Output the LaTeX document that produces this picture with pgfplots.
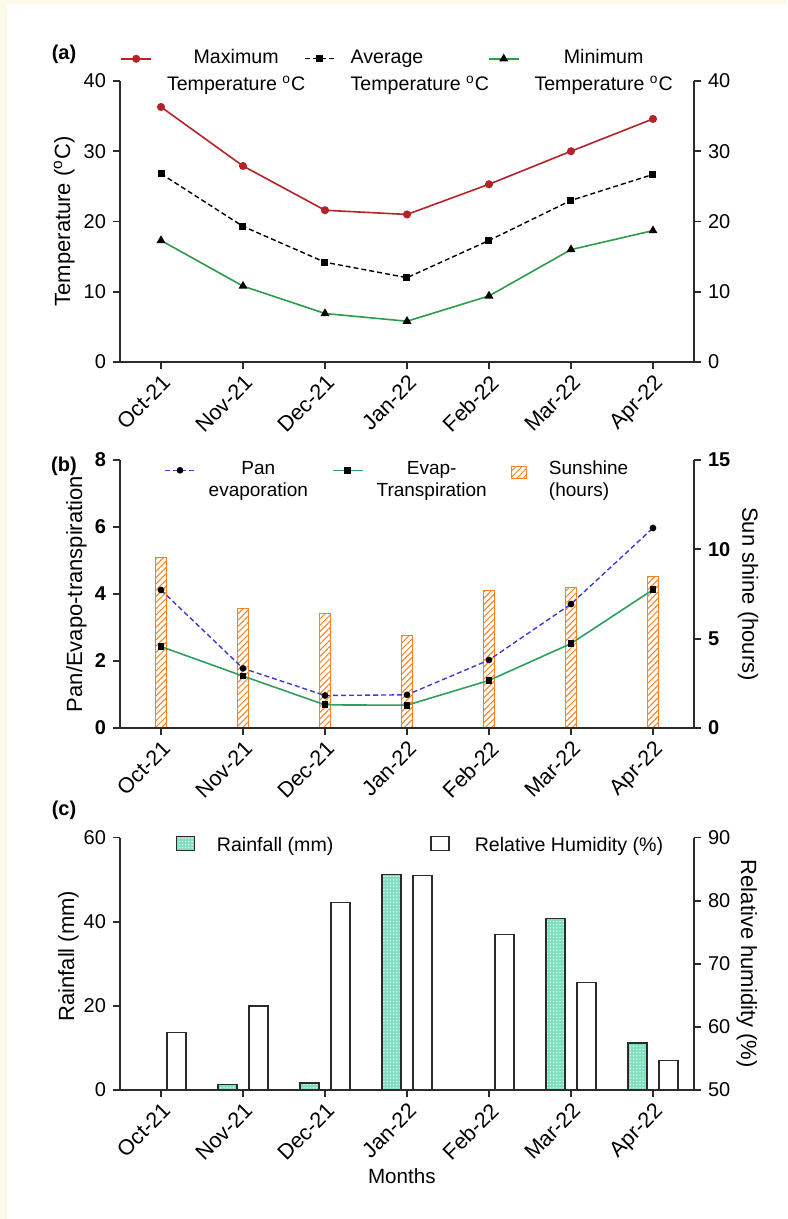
\documentclass[border=0pt]{standalone}
\usepackage{fontspec}
\setmainfont{Liberation Sans}
\usepackage{pgfplots}
\pgfplotsset{compat=1.18}
\usetikzlibrary{patterns,patterns.meta}
\definecolor{axgray}{HTML}{2B2B2B}
\definecolor{maxred}{HTML}{B5232A}
\definecolor{mingreen}{HTML}{2F9A4C}
\definecolor{panblue}{HTML}{3B3BD6}
\definecolor{etgreen}{HTML}{2E9E62}
\definecolor{sunorange}{HTML}{FF8020}
\definecolor{rainmint}{HTML}{7FDFC0}
\definecolor{cream}{HTML}{FCFAE8}

\pgfplotsset{
  base/.style={
    scale only axis, width=287pt,
    xmin=-0.5, xmax=6.5,
    axis line style={axgray, line width=0.9pt},
    every tick/.style={axgray, line width=0.9pt},
    major tick length=3.5pt,
    tick align=outside,
    xtick={0,...,6},
    xticklabels={Oct-21,Nov-21,Dec-21,Jan-22,Feb-22,Mar-22,Apr-22},
    xticklabel style={rotate=45, anchor=north east, font=\fontsize{10.8}{12}\selectfont, inner sep=1.5pt},
    yticklabel style={font=\fontsize{10}{12}\selectfont},
    /pgf/number format/assume math mode=true,
    label style={font=\fontsize{11}{12}\selectfont},
    legend style={draw=none, fill=none, font=\fontsize{9.8}{12}\selectfont, inner sep=0pt},
  },
  leftax/.style={base, axis x line*=bottom, axis y line*=left},
  rightax/.style={base, axis x line=none, axis y line*=right, ylabel style={rotate=180}},
  lineleg/.style={legend image code/.code={\draw[mark repeat=2,mark phase=2,##1] plot coordinates {(0pt,-1pt) (7.5pt,-1pt) (15pt,-1pt)};}},
  sunleg/.style={legend image code/.code={\draw[##1] (0pt,-5pt) rectangle (7.5pt,1pt); \path (12pt,0pt);}},
  boxleg/.style={legend image code/.code={\draw[##1] (0pt,-2.5pt) rectangle (9pt,4.5pt);}},
}

\begin{document}
\begin{tikzpicture}
\useasboundingbox (0,0) rectangle (393.5pt,609.5pt);
\fill[cream] (0,0) rectangle (393.5pt,609.5pt);
\fill[white] (3.5pt,0) rectangle (393.5pt,607.5pt);

% ---------------- panel (a)
\begin{axis}[leftax, at={(60pt,428.5pt)}, anchor=south west, height=140.5pt,
  ymin=0, ymax=40, ytick={0,10,20,30,40},
  ylabel={Temperature (\textsuperscript{o}C)},
  ylabel style={at={(axis description cs:-0.097,0.5)}, anchor=center},
  legend columns=3,
  legend style={at={(axis description cs:0,1.137)}, anchor=north west,
    /tikz/every odd column/.append style={column sep=5.5pt},
    /tikz/every even column/.append style={column sep=-2.5pt}}]
\addplot[maxred, line width=0.8pt, mark=*, mark size=1.6pt, lineleg] coordinates {
(0,36.3) (1,27.9) (2,21.6) (3,21.0) (4,25.3) (5,30.0) (6,34.6)};
\addlegendentry{\begin{tabular}[t]{@{}c@{}}Maximum\\[1.5pt]Temperature \textsuperscript{o}C\end{tabular}}
\addplot[black, line width=0.7pt, dash pattern=on 2.5pt off 1.5pt, mark=square*, mark size=1.4pt, mark options={solid}, lineleg] coordinates {
(0,26.8) (1,19.3) (2,14.2) (3,12.0) (4,17.3) (5,23.0) (6,26.7)};
\addlegendentry{\begin{tabular}[t]{@{}l@{}}Average\\[1.5pt]Temperature \textsuperscript{o}C\end{tabular}}
\addplot[mingreen, line width=0.8pt, mark=triangle*, mark size=1.8pt, mark options={fill=black,draw=black}, lineleg] coordinates {
(0,17.3) (1,10.8) (2,6.9) (3,5.8) (4,9.4) (5,16.0) (6,18.7)};
\addlegendentry{\begin{tabular}[t]{@{}c@{}}Minimum\\[1.5pt]Temperature \textsuperscript{o}C\end{tabular}}
\end{axis}
\begin{axis}[rightax, at={(60pt,428.5pt)}, anchor=south west, height=140.5pt,
  ymin=0, ymax=40, ytick={0,10,20,30,40}]
\addplot[draw=none] coordinates {(0,0)};
\end{axis}
\node[font=\bfseries\fontsize{10}{12}\selectfont] at (32pt,582.5pt) {(a)};

% ---------------- panel (b)
\begin{axis}[rightax, at={(60pt,245.5pt)}, anchor=south west, height=134pt,
  ymin=0, ymax=15, ytick={0,5,10,15},
  yticklabel style={font=\bfseries\fontsize{10}{12}\selectfont},
  ylabel={Sun shine (hours)},
  ylabel style={at={(axis description cs:1.094,0.5)}, anchor=center}]
\addplot[ybar, bar width=0.14, bar shift=0, draw=sunorange, line width=0.6pt, fill=white,
  postaction={pattern={Lines[angle=45,distance=2.2pt,line width=0.5pt]}, pattern color=sunorange}] coordinates {
(0,9.53) (1,6.69) (2,6.41) (3,5.19) (4,7.71) (5,7.86) (6,8.49)};
\end{axis}
\begin{axis}[leftax, at={(60pt,245.5pt)}, anchor=south west, height=134pt,
  ymin=0, ymax=8, ytick={0,2,4,6,8},
  yticklabel style={font=\bfseries\fontsize{10}{12}\selectfont},
  ylabel={Pan/Evapo-transpiration},
  ylabel style={at={(axis description cs:-0.076,0.5)}, anchor=center},
  legend columns=3,
  legend style={at={(axis description cs:0.0765,1.021)}, anchor=north west,
    font=\fontsize{9.5}{11.5}\selectfont,
    /tikz/every odd column/.append style={column sep=4.5pt},
    /tikz/every even column/.append style={column sep=10pt}}]
\addplot[panblue, line width=0.7pt, dash pattern=on 2.5pt off 1.5pt, mark=*, mark size=1.3pt, mark options={solid, fill=black, draw=black}, lineleg] coordinates {
(0,4.12) (1,1.78) (2,0.97) (3,0.99) (4,2.03) (5,3.70) (6,5.97)};
\addlegendentry{\begin{tabular}[t]{@{}c@{}}Pan\\[-0.5pt]evaporation\end{tabular}}
\addplot[etgreen, line width=0.8pt, mark=square*, mark size=1.3pt, mark options={fill=black, draw=black}, lineleg] coordinates {
(0,2.43) (1,1.55) (2,0.69) (3,0.68) (4,1.42) (5,2.52) (6,4.13)};
\addlegendentry{\begin{tabular}[t]{@{}c@{}}Evap-\\[-0.5pt]Transpiration\end{tabular}}
\addlegendimage{draw=sunorange, line width=0.6pt, fill=white,
  postaction={pattern={Lines[angle=45,distance=2.2pt,line width=0.5pt]}, pattern color=sunorange}, sunleg}
\addlegendentry{\begin{tabular}[t]{@{}l@{}}Sunshine\\[-0.5pt](hours)\end{tabular}}
\end{axis}
\node[font=\bfseries\fontsize{10}{12}\selectfont] at (32pt,376.5pt) {(b)};

% ---------------- panel (c)
\begin{axis}[leftax, at={(60pt,64.5pt)}, anchor=south west, height=126.25pt,
  ymin=0, ymax=60, ytick={0,20,40,60},
  ylabel={Rainfall (mm)},
  ylabel style={at={(axis description cs:-0.09,0.53)}, anchor=center},
  xlabel={Months},
  xlabel style={at={(axis description cs:0.491,-0.34)}, anchor=center, font=\fontsize{10.3}{12}\selectfont},
  legend style={at={(axis description cs:0.096,1.019)}, anchor=north west,
    /tikz/every odd column/.append style={column sep=9pt}}]
\addplot[ybar, bar width=0.234, bar shift=-0.188, draw=axgray, line width=0.7pt, fill=rainmint,
  postaction={pattern={Dots[radius=0.35pt,distance=1.6pt]}, pattern color=white}, boxleg] coordinates {
(1,1.35) (2,1.66) (3,51.2) (5,40.8) (6,11.2)};
\addlegendentry{Rainfall (mm)}
\end{axis}
\begin{axis}[rightax, at={(60pt,64.5pt)}, anchor=south west, height=126.25pt,
  ymin=50, ymax=90, ytick={50,60,70,80,90},
  ylabel={Relative humidity (\%)},
  ylabel style={at={(axis description cs:1.092,0.5)}, anchor=center},
  legend style={at={(axis description cs:0.54,1.019)}, anchor=north west,
    /tikz/every odd column/.append style={column sep=10.5pt}}]
\addplot[ybar, bar width=0.234, bar shift=0.188, draw=axgray, line width=0.7pt, fill=white, boxleg] coordinates {
(0,59.1) (1,63.3) (2,79.7) (3,84.0) (4,74.6) (5,67.0) (6,54.7)};
\addlegendentry{Relative Humidity (\%)}
\end{axis}
\node[font=\bfseries\fontsize{10}{12}\selectfont] at (32pt,204.5pt) {(c)};
\end{tikzpicture}
\end{document}
